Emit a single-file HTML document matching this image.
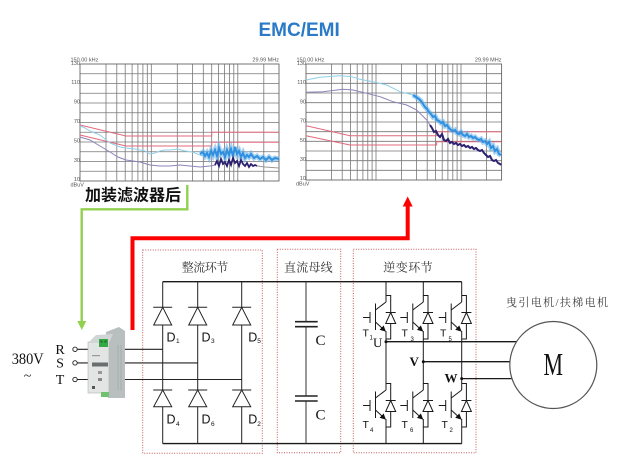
<!DOCTYPE html>
<html><head><meta charset="utf-8"><style>
html,body{margin:0;padding:0;background:#fff;}
svg{display:block;}
</style></head><body>
<svg width="620" height="460" viewBox="0 0 620 460" xmlns="http://www.w3.org/2000/svg">
<defs>
<marker id="ar" markerWidth="6" markerHeight="6" refX="5" refY="3" orient="auto" markerUnits="userSpaceOnUse"><path d="M0,0 L6,3 L0,6z" fill="#111"/></marker>
</defs>
<rect width="620" height="460" fill="#fff"/>

<!-- Title -->
<text x="258.5" y="36" font-family="Liberation Sans, sans-serif" font-weight="bold" font-size="19" fill="#2a7ac8">EMC/EMI</text>

<!-- Chart 1 -->
<g font-family="Liberation Sans, sans-serif" font-size="5.5" fill="#555">
<text x="70.5" y="61.5">150.00 kHz</text>
<text x="279" y="61.5" text-anchor="end">29.99 MHz</text>
<text x="80" y="65" text-anchor="end">130</text>
<text x="80" y="84" text-anchor="end">110</text>
<text x="80" y="103.5" text-anchor="end">90</text>
<text x="80" y="123" text-anchor="end">70</text>
<text x="80" y="142.5" text-anchor="end">50</text>
<text x="80" y="162" text-anchor="end">30</text>
<text x="80" y="181" text-anchor="end">10</text>
<text x="70.5" y="186.5">dBuV</text>
</g>
<path d="M106 64V181M116.8 64V181M125.2 64V181M132.1 64V181M137.9 64V181M142.9 64V181M147.3 64V181M151.3 64V181M177.3 64V181M192.5 64V181M203.3 64V181M211.7 64V181M218.6 64V181M224.4 64V181M229.4 64V181M233.8 64V181M237.8 64V181M263.8 64V181
M80 73.75H279M80 83.5H279M80 93.25H279M80 103H279M80 112.75H279M80 122.5H279M80 132.25H279M80 142H279M80 151.75H279M80 161.5H279M80 171.25H279" stroke="#777" stroke-width="0.8" fill="none"/>
<rect x="80" y="64" width="199" height="117" fill="none" stroke="#666" stroke-width="0.9"/>
<path d="M80 125L126 136H211.7V132.3H279" stroke="#e0697c" stroke-width="1" fill="none"/>
<path d="M80 135L126 146H211.7V142.3H279" stroke="#e0697c" stroke-width="1" fill="none"/>
<polyline points="80,126 85,128 90,131 95,133 100,135 105,139 110,143 115,145 120,147 126,148 135,149 145,151 150,154 155,153 160,151 165,150 170,150 178,149 185,151 192,152 200,155 205,156 210,155" fill="none" stroke="#8fd0ea" stroke-width="1"/>
<polyline points="80,137 90,140 100,146 110,152 118,157 126,160 140,162 150,165 160,166 170,166 180,165 190,166 200,167 210,166 216,165" fill="none" stroke="#8c84b8" stroke-width="1"/>
<polyline points="200,154 203,152 205,156 207,153 209,157 211,151 213,155 215,150 217,156 219,148 221,154 223,152 225,157 227,150 229,155 231,149 233,156 235,147 237,154 239,151 241,157 243,153 245,158 247,155 249,157 251,154 254,158 257,156 260,159 263,157 266,160 269,157 272,160 275,158 279,159" fill="none" stroke="#6fb6ea" stroke-width="5" stroke-opacity="0.6"/>
<polyline points="200,154 203,152 205,156 207,153 209,157 211,151 213,155 215,150 217,156 219,148 221,154 223,152 225,157 227,150 229,155 231,149 233,156 235,147 237,154 239,151 241,157 243,153 245,158 247,155 249,157 251,154 254,158 257,156 260,159 263,157 266,160 269,157 272,160 275,158 279,159" fill="none" stroke="#2f8fe0" stroke-width="2"/>
<polyline points="215,165 217,161 219,166 221,159 223,164 225,162 227,166 229,160 231,165 233,158 235,163 237,161 239,166 241,160 243,164 245,166 247,163 249,167 251,164 253,166 255,165 257,166" fill="none" stroke="#2b2070" stroke-width="1.8"/>
<polyline points="257,166 265,167 279,168" fill="none" stroke="#999" stroke-width="1"/>

<!-- Chart 2 -->
<g font-family="Liberation Sans, sans-serif" font-size="5.5" fill="#555">
<text x="296.5" y="61.5">150.00 kHz</text>
<text x="501.5" y="61.5" text-anchor="end">29.99 MHz</text>
<text x="306" y="65" text-anchor="end">130</text>
<text x="306" y="84" text-anchor="end">110</text>
<text x="306" y="103.5" text-anchor="end">90</text>
<text x="306" y="122.5" text-anchor="end">70</text>
<text x="306" y="142" text-anchor="end">50</text>
<text x="306" y="161" text-anchor="end">30</text>
<text x="306" y="180" text-anchor="end">10</text>
<text x="296" y="185.5">dBuV</text>
</g>
<path d="M331.6 64V180M342.2 64V180M350.4 64V180M357.2 64V180M362.9 64V180M367.8 64V180M372.1 64V180M376 64V180M401.6 64V180M416.6 64V180M427.2 64V180M435.4 64V180M442.2 64V180M447.9 64V180M452.8 64V180M457.1 64V180M461 64V180M486.6 64V180
M306 73.67H501.6M306 83.33H501.6M306 93H501.6M306 102.67H501.6M306 112.33H501.6M306 122H501.6M306 131.67H501.6M306 141.33H501.6M306 151H501.6M306 160.67H501.6M306 170.33H501.6" stroke="#777" stroke-width="0.8" fill="none"/>
<rect x="306" y="64" width="195.6" height="116" fill="none" stroke="#666" stroke-width="0.9"/>
<path d="M306 125.7L350 135.7H436.7V131.7H501.6" stroke="#e0697c" stroke-width="1" fill="none"/>
<path d="M306 135.7L350 145H436.7V141.7H501.6" stroke="#e0697c" stroke-width="1" fill="none"/>
<polyline points="306,80 320,77.3 340,75.7 351.7,76.7 360,79.3 373,81.7 386.7,85 400,91.7 413,95" fill="none" stroke="#8fd0ea" stroke-width="1"/>
<polyline points="306,92.3 323,91.7 343,89.3 353,90 366.7,93.3 380,96.7 393,101.7 406.7,105 416.7,110 426.7,120 430,125" fill="none" stroke="#8c84b8" stroke-width="1"/>
<polyline points="413,95 416,97 419,99 421,101 423,104 425,107 427,109 429,112 431,114 433,117 435,116 437,120 439,121 441,123 443,122 445,126 447,125 449,128 451,130 453,131 455,130 457,133 459,134 461,132 463,135 465,136 467,134 469,137 471,136 473,138 475,137 477,139 479,140 481,139 483,142 485,141 487,144 489,142 491,148 493,146 495,151 497,149 499,154 501,155" fill="none" stroke="#6fb6ea" stroke-width="5" stroke-opacity="0.6"/>
<polyline points="413,95 416,97 419,99 421,101 423,104 425,107 427,109 429,112 431,114 433,117 435,116 437,120 439,121 441,123 443,122 445,126 447,125 449,128 451,130 453,131 455,130 457,133 459,134 461,132 463,135 465,136 467,134 469,137 471,136 473,138 475,137 477,139 479,140 481,139 483,142 485,141 487,144 489,142 491,148 493,146 495,151 497,149 499,154 501,155" fill="none" stroke="#2f8fe0" stroke-width="2"/>
<polyline points="430,125 432,128 434,132 436,131 438,135 440,137 442,134 444,140 446,141 448,139 450,143 452,142 454,144 456,143 458,145 460,144 462,146 464,145 466,147 468,146 470,148 472,147 474,149 476,148 478,150 480,151 482,150 484,153 486,155 488,157 490,156 492,160 494,161 496,160 498,163 500,164 501,165" fill="none" stroke="#2b2070" stroke-width="2"/>

<!-- Green label & arrow -->
<text x="85" y="200.7" font-family="Liberation Sans, 'Noto Sans CJK SC', sans-serif" font-weight="bold" font-size="16" fill="#111">加装滤波器后</text>
<path d="M187.3 185V209.3H81.7V322" fill="none" stroke="#92d050" stroke-width="2.4"/>
<polygon points="77.3,321 86.3,321 81.8,330" fill="#92d050"/>

<!-- Red arrow -->
<path d="M132.5 330V238.3H407.7V205" fill="none" stroke="#ff0000" stroke-width="4"/>
<polygon points="402.7,206.5 412.7,206.5 407.7,196.5" fill="#ff0000"/>

<!-- Dotted boxes -->
<g fill="none" stroke="#c05a5a" stroke-width="1" stroke-dasharray="1,1.5">
<rect x="142.7" y="250" width="119.6" height="203.3"/>
<rect x="277.3" y="249.3" width="63.4" height="203.4"/>
<rect x="353.3" y="249.3" width="122.7" height="203.4"/>
</g>
<g font-family="Liberation Serif, 'Noto Serif CJK SC', serif" font-size="12" fill="#333">
<text x="181.7" y="271.3" textLength="46.6" lengthAdjust="spacing">整流环节</text>
<text x="284" y="271.3" textLength="48.7" lengthAdjust="spacing">直流母线</text>
<text x="383.3" y="271.3" textLength="49.4" lengthAdjust="spacing">逆变环节</text>
</g>

<!-- Input labels -->
<text x="11.7" y="364" font-family="Liberation Serif, serif" font-size="16" fill="#111" textLength="32" lengthAdjust="spacingAndGlyphs">380V</text>
<text x="27.5" y="380" font-family="Liberation Serif, serif" font-size="14" fill="#111" text-anchor="middle">~</text>
<g font-family="Liberation Serif, serif" font-size="14" fill="#111" text-anchor="middle">
<text x="60" y="354">R</text>
<text x="60" y="367.5">S</text>
<text x="60" y="384">T</text>
</g>
<g fill="#fff" stroke="#222" stroke-width="0.9">
<circle cx="75" cy="349.3" r="2.2"/>
<circle cx="75" cy="362.9" r="2.2"/>
<circle cx="75" cy="379.5" r="2.2"/>
</g>
<path d="M77.2 349.3H89M77.2 362.9H89M77.2 379.5H89M125 349.3H162.7M125 362.9H197.7M125 379.5H241.7" stroke="#222" stroke-width="1.1" fill="none"/>

<!-- Filter device -->
<polygon points="106,332 119,327 125,331 125,398 108,398" fill="#b9bebe"/>
<rect x="88" y="342" width="21" height="51" fill="#e3e5e5" stroke="#b0b4b4" stroke-width="0.6"/>
<polygon points="88,343 96,335 113,334 109,343" fill="#d2d5d5"/>
<rect x="99" y="339" width="9" height="8" fill="#34a844"/>
<rect x="100.5" y="340.5" width="2" height="2" fill="#1d6b27"/>
<rect x="104.5" y="340.5" width="2" height="2" fill="#1d6b27"/>
<rect x="92" y="362.5" width="16" height="4" fill="#6b6e6e"/>
<rect x="92" y="355" width="8" height="1.2" fill="#999"/>
<rect x="98" y="371" width="4" height="3" fill="#999"/>
<rect x="98" y="378" width="4" height="3" fill="#888"/>
<rect x="92" y="386" width="3" height="3" fill="#555"/>
<rect x="101" y="392" width="8" height="5" fill="#6fc06f"/>
<path d="M118 345V390M121 345V390" stroke="#a4a9a9" stroke-width="0.8"/>

<!-- Buses -->
<path d="M162.7 281.7H461.7M162.7 443.6H461.7" stroke="#1a1a1a" stroke-width="1.4" fill="none"/>

<!-- Rectifier diodes -->
<g fill="none" stroke="#222" stroke-width="1">
<path d="M162.7 281.7V307.3M153.2 307.3H172.2M162.7 307.3L153.7 325H171.7ZM162.7 325V390M153.2 390H172.2M162.7 390L153.7 406.7H171.7ZM162.7 406.7V443.6"/>
<path d="M197.7 281.7V307.3M188.2 307.3H207.2M197.7 307.3L188.7 325H206.7ZM197.7 325V390M188.2 390H207.2M197.7 390L188.7 406.7H206.7ZM197.7 406.7V443.6"/>
<path d="M241.7 281.7V307.3M232.2 307.3H251.2M241.7 307.3L232.7 325H250.7ZM241.7 325V390M232.2 390H251.2M241.7 390L232.7 406.7H250.7ZM241.7 406.7V443.6"/>
</g>
<g font-family="Liberation Sans, sans-serif" fill="#111">
<text x="166.5" y="341.7" font-size="12.5">D</text><text x="176" y="343" font-size="6.5">1</text>
<text x="201.5" y="341.7" font-size="12.5">D</text><text x="211" y="343" font-size="6.5">3</text>
<text x="248.2" y="341.7" font-size="12.5">D</text><text x="257.3" y="343" font-size="6.5">5</text>
<text x="166.5" y="423.3" font-size="12.5">D</text><text x="176" y="426" font-size="6.5">4</text>
<text x="201.5" y="423.3" font-size="12.5">D</text><text x="211" y="426" font-size="6.5">6</text>
<text x="248.2" y="423.3" font-size="12.5">D</text><text x="257.3" y="426" font-size="6.5">2</text>
</g>

<!-- Capacitors -->
<path d="M306 281.7V321.7M306 326.7V396M306 401V443.6" stroke="#333" stroke-width="1" fill="none"/>
<path d="M295 321.7H317.7M295 326.7H317.7M295 396H317.7M295 401H317.7" stroke="#222" stroke-width="1.6" fill="none"/>
<g font-family="Liberation Serif, serif" font-size="15" fill="#111">
<text x="315.5" y="345">C</text>
<text x="315.5" y="419.3">C</text>
</g>

<!-- Inverter -->
<g fill="none" stroke="#1a1a1a" stroke-width="1">
<!-- column 1 c=386 -->
<path d="M386 281.7V302M386 331V390M386 419V443.6"/>
<path d="M386 295.5H390.7V312.5M385.7 312.5H395.7M390.7 312.5L385.7 323.5H395.7ZM390.7 323.5V339H386"/>
<path d="M386 302L375.5 310M375.5 303.5V330M370 312V323M363 317.5H370"/>
<path d="M386 383.5H390.7V400.5M385.7 400.5H395.7M390.7 400.5L385.7 411.5H395.7ZM390.7 411.5V427H386"/>
<path d="M386 390L375.5 398M375.5 391.5V418M370 400V411M363 405.5H370"/>
<!-- column 2 c=423.3 -->
<path d="M423.3 281.7V302M423.3 331V390M423.3 419V443.6"/>
<path d="M423.3 295.5H428V312.5M423 312.5H433M428 312.5L423 323.5H433ZM428 323.5V339H423.3"/>
<path d="M423.3 302L412.8 310M412.8 303.5V330M407.3 312V323M400.3 317.5H407.3"/>
<path d="M423.3 383.5H428V400.5M423 400.5H433M428 400.5L423 411.5H433ZM428 411.5V427H423.3"/>
<path d="M423.3 390L412.8 398M412.8 391.5V418M407.3 400V411M400.3 405.5H407.3"/>
<!-- column 3 c=461.7 -->
<path d="M461.7 281.7V302M461.7 331V390M461.7 419V443.6"/>
<path d="M461.7 295.5H466.4V312.5M461.4 312.5H471.4M466.4 312.5L461.4 323.5H471.4ZM466.4 323.5V339H461.7"/>
<path d="M461.7 302L451.2 310M451.2 303.5V330M445.7 312V323M438.7 317.5H445.7"/>
<path d="M461.7 383.5H466.4V400.5M461.4 400.5H471.4M466.4 400.5L461.4 411.5H471.4ZM466.4 411.5V427H461.7"/>
<path d="M461.7 390L451.2 398M451.2 391.5V418M445.7 400V411M438.7 405.5H445.7"/>
</g>
<g stroke="#1a1a1a" stroke-width="1" fill="none" marker-end="url(#ar)">
<path d="M375.5 322L385.2 331"/>
<path d="M375.5 410L385.2 419"/>
<path d="M412.8 322L422.5 331"/>
<path d="M412.8 410L422.5 419"/>
<path d="M451.2 322L460.9 331"/>
<path d="M451.2 410L460.9 419"/>
</g>
<g font-family="Liberation Sans, sans-serif" fill="#111">
<text x="362.5" y="336.7" font-size="10.5">T</text><text x="369.5" y="339.5" font-size="6">1</text>
<text x="401.5" y="336.7" font-size="10.5">T</text><text x="410.5" y="341" font-size="6">3</text>
<text x="440" y="336.7" font-size="10.5">T</text><text x="448.5" y="341" font-size="6">5</text>
<text x="362.5" y="428" font-size="10.5">T</text><text x="370" y="432" font-size="6">4</text>
<text x="401.5" y="428" font-size="10.5">T</text><text x="410" y="432" font-size="6">6</text>
<text x="441.5" y="428" font-size="10.5">T</text><text x="449.5" y="432" font-size="6">2</text>
</g>
<g font-family="Liberation Serif, serif" fill="#111" font-size="13">
<text x="373" y="347">U</text>
<text x="409.5" y="366" font-weight="bold">V</text>
<text x="444.5" y="382.5" font-weight="bold">W</text>
</g>

<!-- Output lines to motor -->
<path d="M386 341.7H516.6M423.3 361.7H510M461.7 378.6H512.3" stroke="#1a1a1a" stroke-width="1.3" fill="none"/>
<g fill="#111">
<circle cx="386" cy="341.7" r="1.5"/>
<circle cx="423.3" cy="361.7" r="1.5"/>
<circle cx="461.7" cy="378.6" r="1.5"/>
</g>

<!-- Motor -->
<circle cx="553.3" cy="365" r="43.5" fill="none" stroke="#555" stroke-width="1.2"/>
<text x="543.5" y="375" font-family="Liberation Serif, serif" font-size="32" fill="#111" textLength="19.5" lengthAdjust="spacingAndGlyphs">M</text>
<text x="506" y="306" font-family="Liberation Serif, 'Noto Serif CJK SC', serif" font-size="11" fill="#444" textLength="102" lengthAdjust="spacing">曳引电机/扶梯电机</text>
</svg>
</body></html>
